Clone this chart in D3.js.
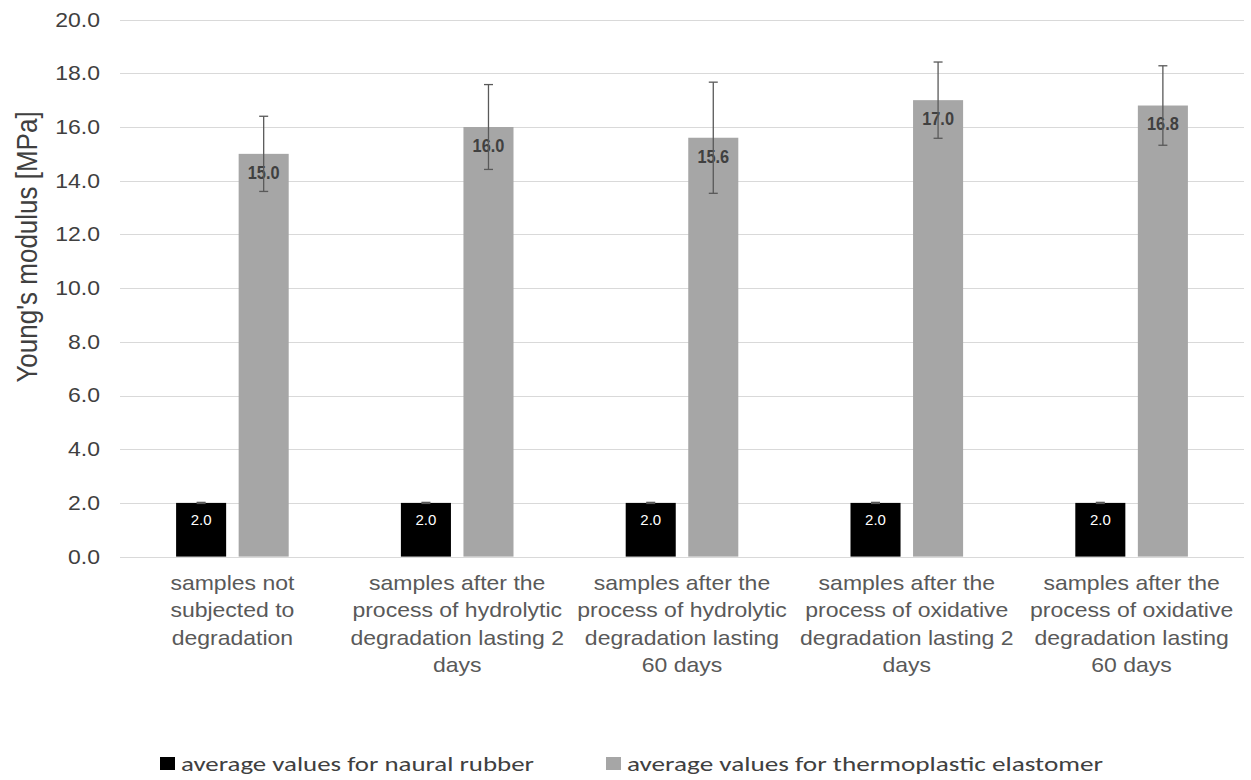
<!DOCTYPE html>
<html>
<head>
<meta charset="utf-8">
<script src="https://cdn.jsdelivr.net/npm/d3@7"></script>
<style>
  html, body { margin: 0; padding: 0; background: #fff; }
  svg { display: block; }
</style>
</head>
<body>
<svg id="chart" width="1251" height="780"></svg>
<script>
// ---------- data ----------
const categories = [
  "samples not subjected to degradation",
  "samples after the process of hydrolytic degradation lasting 2 days",
  "samples after the process of hydrolytic degradation lasting 60 days",
  "samples after the process of oxidative degradation lasting 2 days",
  "samples after the process of oxidative degradation lasting 60 days"
];
const categoryLines = [
  ["samples not", "subjected to", "degradation"],
  ["samples after the", "process of hydrolytic", "degradation lasting 2", "days"],
  ["samples after the", "process of hydrolytic", "degradation lasting", "60 days"],
  ["samples after the", "process of oxidative", "degradation lasting 2", "days"],
  ["samples after the", "process of oxidative", "degradation lasting", "60 days"]
];
const seriesNames = ["average values for naural rubber", "average values for thermoplastic elastomer"];
const rubberValues = [2.0, 2.0, 2.0, 2.0, 2.0];
const rubberErrors = [0.02, 0.02, 0.02, 0.02, 0.02];
const tpeValues = [15.0, 16.0, 15.6, 17.0, 16.8];
const tpeErrors = [1.4, 1.58, 2.07, 1.42, 1.48];
const yTicks = [0, 2, 4, 6, 8, 10, 12, 14, 16, 18, 20];
const yTitle = "Young's modulus [MPa]";

// ---------- layout ----------
const svg = d3.select("#chart");
const plot = { left: 120, right: 1244, top: 19.6, bottom: 556.6 };
const stretch = 1.15;

const x0 = d3.scaleBand().domain(categories).range([plot.left, plot.right]).padding(0);
const x1 = d3.scaleBand().domain(seriesNames).range([-56.3, 56.3]).paddingInner(0.2).paddingOuter(0);
const y = d3.scaleLinear().domain([0, 20]).range([plot.bottom, plot.top]);

const colors = ["#000000", "#a6a6a6"];

// gridlines
svg.append("g").selectAll("line").data(yTicks).join("line")
  .attr("x1", plot.left).attr("x2", plot.right)
  .attr("y1", d => Math.round(y(d)) + 0.5).attr("y2", d => Math.round(y(d)) + 0.5)
  .attr("stroke", "#d9d9d9").attr("stroke-width", 1);

// y tick labels
svg.append("g").selectAll("text").data(yTicks).join("text")
  .attr("transform", d => `translate(100,${y(d)}) scale(${stretch},1)`)
  .attr("text-anchor", "end").attr("dominant-baseline", "central")
  .attr("font-family", "Liberation Sans, Arial, sans-serif")
  .attr("font-size", 20).attr("fill", "#404040")
  .text(d => d3.format(".1f")(d));

// y title
svg.append("text")
  .attr("transform", `translate(27,247) rotate(-90) scale(1,${stretch})`)
  .attr("text-anchor", "middle").attr("dominant-baseline", "central")
  .attr("font-family", "Liberation Sans, Arial, sans-serif")
  .attr("font-size", 26).attr("fill", "#404040")
  .text(yTitle);

const center = c => x0(c) + x0.bandwidth() / 2;
const seriesData = [
  { name: seriesNames[0], values: rubberValues, errors: rubberErrors },
  { name: seriesNames[1], values: tpeValues, errors: tpeErrors }
];

// bars
seriesData.forEach((s, si) => {
  svg.append("g").selectAll("rect").data(categories).join("rect")
    .attr("x", (c) => center(c) + x1(s.name))
    .attr("width", x1.bandwidth())
    .attr("y", (c, i) => y(s.values[i]))
    .attr("height", (c, i) => y(0) - y(s.values[i]))
    .attr("fill", colors[si]);
});

// data labels
seriesData.forEach((s, si) => {
  svg.append("g").selectAll("text").data(categories).join("text")
    .attr("transform", (c, i) => {
      const cx = center(c) + x1(s.name) + x1.bandwidth() / 2;
      const cy = y(s.values[i]) + (si === 0 ? 17 : 18.5);
      return `translate(${cx},${cy}) scale(${si === 0 ? 1 : 0.86},1)`;
    })
    .attr("text-anchor", "middle").attr("dominant-baseline", "central")
    .attr("font-family", "Liberation Sans, Arial, sans-serif")
    .attr("font-weight", si === 0 ? "normal" : "bold")
    .attr("font-size", si === 0 ? 15 : 19)
    .attr("fill", si === 0 ? "#ffffff" : "#404040")
    .text((c, i) => d3.format(".1f")(s.values[i]));
});

// error bars
seriesData.forEach((s) => {
  const g = svg.append("g").attr("stroke", "#595959").attr("stroke-width", 1.3).attr("fill", "none");
  categories.forEach((c, i) => {
    const cx = center(c) + x1(s.name) + x1.bandwidth() / 2;
    const yt = y(s.values[i] + s.errors[i]);
    const yb = y(s.values[i] - s.errors[i]);
    g.append("line").attr("x1", cx).attr("x2", cx).attr("y1", yt).attr("y2", yb);
    g.append("line").attr("x1", cx - 4.5).attr("x2", cx + 4.5).attr("y1", yt).attr("y2", yt);
    g.append("line").attr("x1", cx - 4.5).attr("x2", cx + 4.5).attr("y1", yb).attr("y2", yb);
  });
});

// x category labels
const lab = svg.append("g");
categories.forEach((c, i) => {
  categoryLines[i].forEach((line, li) => {
    lab.append("text")
      .attr("transform", `translate(${center(c)},${583.3 + li * 27.2}) scale(${stretch},1)`)
      .attr("text-anchor", "middle").attr("dominant-baseline", "central")
      .attr("font-family", "Liberation Sans, Arial, sans-serif")
      .attr("font-size", 20).attr("fill", "#595959")
      .text(line);
  });
});

// legend
const legendX = [160, 606];
const legendTextLen = [353, 476];
const leg = svg.append("g");
seriesNames.forEach((n, i) => {
  leg.append("rect").attr("x", legendX[i]).attr("y", 757).attr("width", 15).attr("height", 13).attr("fill", colors[i]);
  leg.append("text").attr("x", legendX[i] + 21).attr("y", 763.5)
    .attr("dominant-baseline", "central")
    .attr("font-family", "Carlito, Lato, 'Open Sans', sans-serif")
    .attr("font-size", 21).attr("fill", "#404040")
    .attr("textLength", legendTextLen[i]).attr("lengthAdjust", "spacingAndGlyphs")
    .text(n);
});
</script>
</body>
</html>
